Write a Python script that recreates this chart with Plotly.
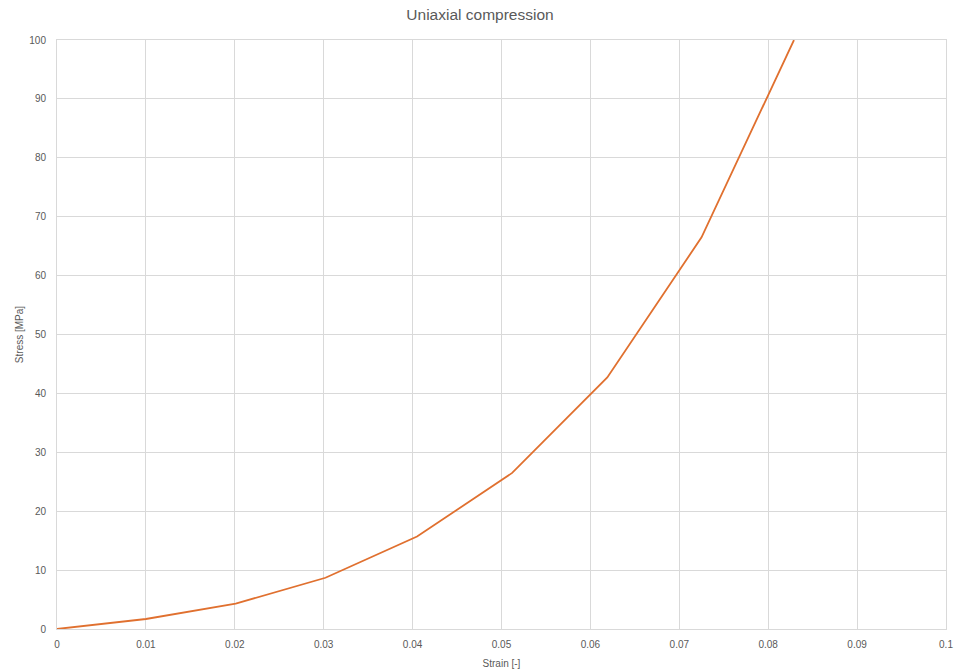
import plotly.graph_objects as go

strain = [0.0, 0.0100, 0.0201, 0.0302, 0.0405, 0.0512, 0.0619, 0.0725, 0.0829]
stress = [0.0, 1.7, 4.3, 8.7, 15.7, 26.5, 42.7, 66.5, 100.0]

x_ticks = [0, 0.01, 0.02, 0.03, 0.04, 0.05, 0.06, 0.07, 0.08, 0.09, 0.1]
x_tick_labels = ["0", "0.01", "0.02", "0.03", "0.04", "0.05", "0.06", "0.07", "0.08", "0.09", "0.1"]
y_ticks = [0, 10, 20, 30, 40, 50, 60, 70, 80, 90, 100]

font_family = "Liberation Sans, Arial, sans-serif"
text_color = "#595959"
grid_color = "#d9d9d9"

fig = go.Figure()
fig.add_trace(go.Scatter(
    x=strain, y=stress, mode="lines",
    line=dict(color="#E0702F", width=1.8),
    showlegend=False,
))

fig.update_layout(
    width=960, height=670,
    margin=dict(l=57, r=14, t=40, b=41, autoexpand=False),
    paper_bgcolor="white", plot_bgcolor="white",
    title=dict(text="Uniaxial compression", x=0.5, xanchor="center", y=0.978, yanchor="middle",
               font=dict(family=font_family, size=15.5, color=text_color)),
    font=dict(family=font_family, size=10, color=text_color),
)
fig.update_xaxes(
    range=[0, 0.1], tickvals=x_ticks, ticktext=x_tick_labels,
    showgrid=True, gridcolor=grid_color, gridwidth=1,
    showline=True, linecolor=grid_color, linewidth=1, mirror=True,
    zeroline=False, ticks="", ticklabelstandoff=6, automargin=False,
    title=dict(text="Strain [-]", standoff=10, font=dict(size=10, color=text_color)),
    tickfont=dict(size=10, color=text_color),
)
fig.update_yaxes(
    range=[0, 100], tickvals=y_ticks,
    showgrid=True, gridcolor=grid_color, gridwidth=1,
    showline=True, linecolor=grid_color, linewidth=1, mirror=True,
    zeroline=False, ticks="", ticklabelstandoff=8, automargin=False,
    title=dict(text="Stress [MPa]", standoff=3, font=dict(size=10, color=text_color)),
    tickfont=dict(size=10, color=text_color),
)

post = (
    "document.body.style.margin='0';"
    "document.body.style.overflow='hidden';"
)

fig.write_html("out.html", config={"displayModeBar": False}, post_script=post)
